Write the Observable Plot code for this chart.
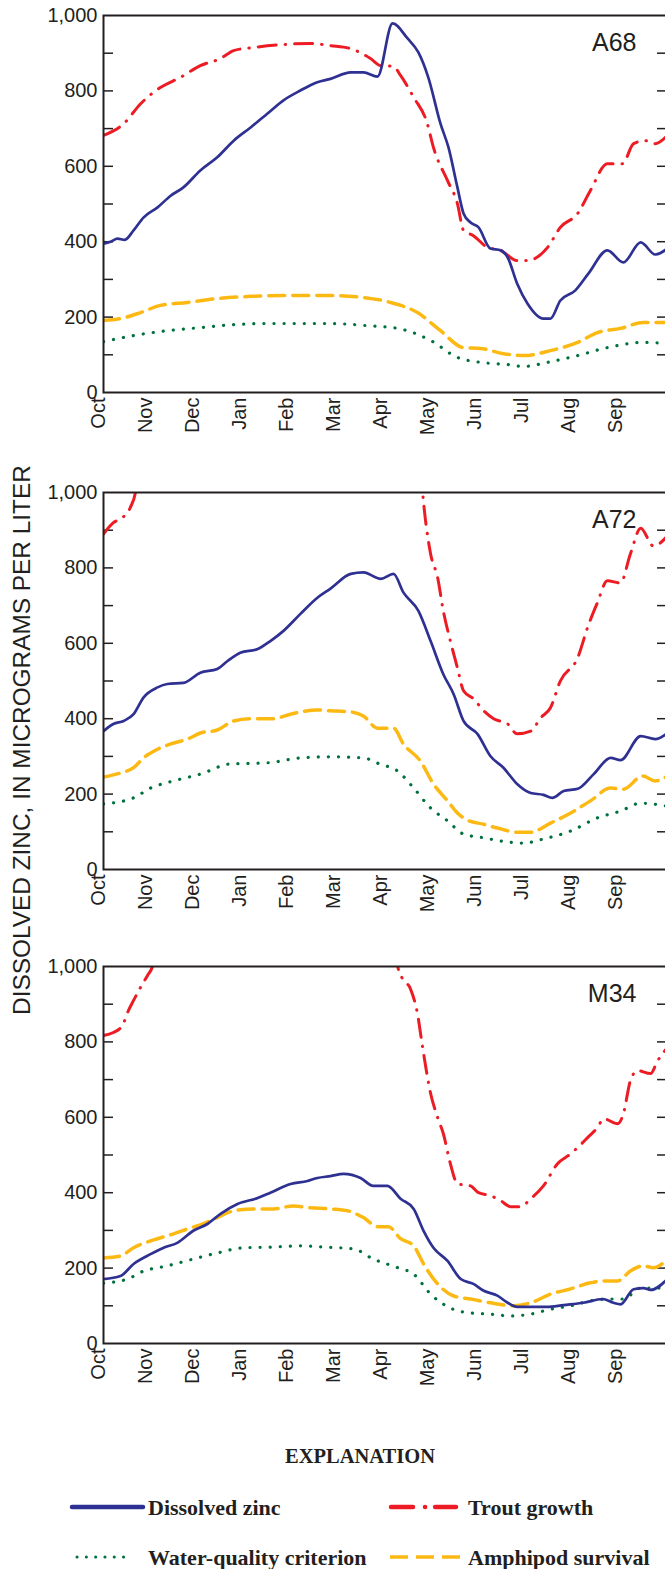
<!DOCTYPE html>
<html><head><meta charset="utf-8">
<script src="https://cdn.jsdelivr.net/npm/d3@7"></script>
<script src="https://cdn.jsdelivr.net/npm/@observablehq/plot@0.6"></script>
<style>
html,body{margin:0;padding:0;background:#fff;overflow:hidden;}
#wrap{position:relative;width:665px;height:1569px;overflow:hidden;}
.panel{position:absolute;left:0;max-width:none !important;}
#ytitle{position:absolute;left:22px;top:740px;transform:translate(-50%,-50%) rotate(-90deg);white-space:nowrap;font:24.4px "Liberation Sans",Arial,sans-serif;color:#231f20;}
#legend{position:absolute;left:0;top:1420px;}
</style></head><body><div id="wrap"><div id="ytitle">DISSOLVED ZINC, IN MICROGRAMS PER LITER</div></div>
<script>
// Month axis (t = months since Oct 1)
const months = ["Oct","Nov","Dec","Jan","Feb","Mar","Apr","May","Jun","Jul","Aug","Sep"];
const monthTicks = [0,1,2,3,4,5,6,7,8,9,10,11];
const yLabelTicks = [0,200,400,600,800,1000];
const yMinorTicks = [100,200,300,400,500,600,700,800,900];
const siteLabels = ["A68","A72","M34"];
const seriesNames = ["Dissolved zinc","Trout growth","Water-quality criterion","Amphipod survival"];

// A68
const a68Zinc = [[0,395],[0.15,400],[0.3,408],[0.45,405],[0.64,430],[0.85,464],[1.15,491],[1.43,522],[1.7,544],[2.06,589],[2.42,624],[2.77,668],[3.13,703],[3.49,740],[3.83,775],[4.19,801],[4.55,823],[4.83,832],[5.26,849],[5.53,849],[5.83,838],[6.15,979],[6.47,939],[6.7,902],[6.91,836],[7.17,713],[7.34,650],[7.53,544],[7.66,475],[7.81,451],[7.98,438],[8.23,382],[8.45,377],[8.6,358],[8.8,289],[9.02,236],[9.36,196],[9.51,196],[9.72,244],[10.04,271],[10.32,316],[10.72,377],[11.06,345],[11.43,398],[11.74,366],[12,382]];
const a68Trout = [[0,682],[0.43,713],[0.79,766],[1.21,809],[1.64,836],[2.06,867],[2.49,886],[2.77,907],[3.19,915],[3.83,923],[4.4,926],[4.83,920],[5.26,912],[5.68,886],[5.9,867],[6.17,865],[6.32,841],[6.6,783],[6.89,713],[7.02,650],[7.32,562],[7.53,501],[7.66,430],[7.87,416],[8.17,385],[8.45,377],[8.8,350],[9.02,350],[9.45,385],[9.72,438],[10.09,475],[10.36,536],[10.72,607],[11.04,607],[11.28,660],[11.53,668],[11.74,660],[12,682]];
const a68Amphipod = [[0,191],[0.36,196],[0.79,212],[1.21,231],[1.79,239],[2.42,249],[3.13,255],[3.83,257],[4.55,257],[4.83,257],[5.53,252],[6.1,239],[6.68,212],[7.17,164],[7.66,119],[8.02,117],[8.51,103],[8.94,98],[9.51,111],[10.09,133],[10.51,159],[11.0,170],[11.49,186],[12,186]];
const a68Criterion = [[0,135],[0.64,151],[1.36,164],[2.06,172],[2.77,180],[3.49,183],[4.19,183],[4.83,183],[5.53,178],[6.26,170],[6.96,138],[7.53,93],[8.02,80],[8.6,74],[8.94,69],[9.45,80],[10.09,98],[10.72,119],[11.49,133],[12,130]];

// A72
const a72Zinc = [[0,367],[0.21,386],[0.43,394],[0.64,412],[0.85,456],[1.15,483],[1.36,492],[1.7,495],[2.06,522],[2.42,532],[2.64,553],[2.91,575],[3.28,585],[3.55,606],[3.83,633],[4.19,678],[4.55,721],[4.83,745],[5.26,784],[5.53,788],[5.9,771],[6.17,784],[6.38,735],[6.7,686],[6.96,606],[7.23,518],[7.45,465],[7.66,394],[7.96,359],[8.23,301],[8.51,270],[8.8,227],[9.09,203],[9.36,198],[9.55,190],[9.79,208],[10.09,214],[10.43,253],[10.79,296],[11.0,290],[11.43,354],[11.74,346],[12,362]];
const a72Trout = [[0,890],[0.21,920],[0.4,933],[0.57,960],[0.68,1000],[0.75,1060],[null,null],[6.75,1060],[6.79,1000],[6.96,837],[7.11,774],[7.23,686],[7.38,606],[7.53,535],[7.66,474],[7.87,453],[8.09,421],[8.3,400],[8.6,386],[8.8,360],[9.09,367],[9.3,402],[9.51,429],[9.72,500],[10.09,562],[10.3,642],[10.51,708],[10.72,766],[11.0,760],[11.21,837],[11.43,905],[11.7,858],[12,885]];
const a72Amphipod = [[0,245],[0.36,256],[0.64,270],[0.85,296],[1.15,319],[1.43,333],[1.79,346],[2.06,362],[2.42,370],[2.77,394],[3.13,400],[3.62,400],[3.98,412],[4.55,423],[4.83,421],[5.26,418],[5.53,407],[5.83,375],[6.17,375],[6.38,333],[6.74,288],[7.02,227],[7.32,182],[7.53,150],[7.74,131],[8.09,120],[8.38,110],[8.8,99],[9.09,99],[9.51,123],[9.94,150],[10.36,182],[10.79,216],[11.06,213],[11.47,248],[11.74,235],[12,248]];
const a72Criterion = [[0,174],[0.64,190],[1.0,216],[1.49,235],[2.06,253],[2.7,280],[3.49,283],[4.19,296],[4.83,299],[5.53,296],[5.87,280],[6.26,261],[6.6,216],[6.96,163],[7.32,129],[7.66,94],[8.09,84],[8.6,73],[8.94,70],[9.36,81],[9.94,102],[10.51,137],[11.0,155],[11.43,176],[12,168]];

// M34
const m34Zinc = [[0,171],[0.36,179],[0.64,211],[1.0,237],[1.28,254],[1.57,267],[1.91,299],[2.21,317],[2.49,344],[2.85,370],[3.28,386],[3.55,400],[3.98,423],[4.34,431],[4.55,439],[4.83,444],[5.11,450],[5.47,439],[5.74,418],[6.04,418],[6.32,384],[6.6,357],[6.81,299],[7.02,254],[7.32,219],[7.6,171],[7.87,158],[8.09,140],[8.38,127],[8.6,108],[8.8,97],[9.43,97],[9.79,102],[10.21,108],[10.62,118],[10.85,108],[11.0,104],[11.28,144],[11.49,147],[11.64,142],[12,171]];
const m34Trout = [[0,817],[0.21,825],[0.4,843],[0.53,883],[0.64,910],[0.79,945],[0.94,977],[1.04,1000],[1.1,1040],[null,null],[6.22,1040],[6.26,1000],[6.36,968],[6.53,941],[6.68,875],[6.79,785],[6.96,663],[7.11,599],[7.23,557],[7.38,477],[7.53,424],[7.81,418],[7.98,400],[8.23,392],[8.45,379],[8.66,363],[8.87,363],[9.09,384],[9.36,418],[9.66,477],[9.94,503],[10.3,546],[10.51,573],[10.64,596],[10.94,583],[11.06,609],[11.21,697],[11.36,724],[11.64,716],[11.79,750],[12,785]];
const m34Amphipod = [[0,227],[0.36,232],[0.64,254],[1.0,272],[1.49,291],[1.79,304],[2.13,318],[2.42,334],[2.77,352],[3.19,357],[3.62,357],[4.04,365],[4.4,360],[4.83,357],[5.19,352],[5.53,334],[5.83,310],[6.06,310],[6.32,278],[6.6,259],[6.81,211],[7.11,158],[7.45,126],[7.81,118],[8.23,108],[8.72,100],[9.09,108],[9.51,131],[9.94,145],[10.36,161],[10.64,166],[10.94,166],[11.21,192],[11.49,206],[11.7,201],[12,224]];
const m34Criterion = [[0,160],[0.51,171],[0.85,192],[1.36,206],[1.91,224],[2.42,240],[2.98,254],[3.62,256],[4.19,259],[4.68,256],[5.32,251],[5.74,224],[6.26,201],[6.6,184],[6.96,131],[7.38,94],[7.81,81],[8.23,78],[8.66,73],[9.09,78],[9.51,91],[9.94,100],[10.36,113],[10.79,118],[11.06,118],[11.43,147],[12,147]];

const ink = "#231f20";
const blue = "#2e3192", red = "#ed1c24", gold = "#fdb913", green = "#00703c";
const styleZinc = {stroke: blue, strokeWidth: 2.7};
const styleTrout = {stroke: red, strokeWidth: 3, strokeDasharray: "18,9,0.5,9", strokeLinecap: "round"};
const styleCrit = {stroke: green, strokeWidth: 3.2, strokeDasharray: "0.1,10", strokeLinecap: "round"};
const styleAmph = {stroke: gold, strokeWidth: 3.5, strokeDasharray: "16,8"};

const panels = [
  {label: siteLabels[0], zinc: a68Zinc, trout: a68Trout, amph: a68Amphipod, crit: a68Criterion, top: 0},
  {label: siteLabels[1], zinc: a72Zinc, trout: a72Trout, amph: a72Amphipod, crit: a72Criterion, top: 477},
  {label: siteLabels[2], zinc: m34Zinc, trout: m34Trout, amph: m34Amphipod, crit: m34Criterion, top: 951}
];

const W = 670, mL = 103, mR = 3, mT = 15, PH = 377, mB = 60;
const plotW = W - mL - mR;
const wrap = document.getElementById("wrap");
const X = d => d[0], Y = d => d[1];
const curve = "monotone-x";

for (const p of panels) {
  const chart = Plot.plot({
    width: W, height: mT + PH + mB,
    marginLeft: mL, marginRight: mR, marginTop: mT, marginBottom: mB,
    style: {fontFamily: '"Liberation Sans", Arial, sans-serif', fontSize: "20px", color: ink, background: "transparent", maxWidth: "none"},
    x: {domain: [0, 12]},
    y: {domain: [0, 1000]},
    marks: [
      Plot.axisX({ticks: monthTicks, tickFormat: i => months[i], tickRotate: -90, tickSize: 0, tickPadding: 5, label: null, fontSize: 20, dx: -5}),
      Plot.axisY({ticks: yLabelTicks, tickFormat: d3.format(","), tickSize: 0, tickPadding: 6, label: null, fontSize: 20}),
      Plot.tickY(yMinorTicks, {y: d => d, insetRight: plotW - 10, stroke: ink, strokeWidth: 1.5}),
      Plot.tickY(yMinorTicks, {y: d => d, insetLeft: plotW - 10, stroke: ink, strokeWidth: 1.5}),
      Plot.line(p.crit, {x: X, y: Y, curve, ...styleCrit, clip: true}),
      Plot.line(p.amph, {x: X, y: Y, curve, ...styleAmph, clip: true}),
      Plot.line(p.trout, {x: X, y: Y, curve, ...styleTrout, clip: true}),
      Plot.line(p.zinc, {x: X, y: Y, curve, ...styleZinc, clip: true}),
      Plot.text([p.label], {text: d => d, frameAnchor: "top-right", textAnchor: "end", lineAnchor: "top", dx: -31, dy: 18, fontSize: 25, fill: ink}),
      Plot.frame({stroke: ink, strokeWidth: 2})
    ]
  });
  chart.classList.add("panel");
  chart.style.top = p.top + "px";
  chart.style.position = "absolute";
  chart.style.maxWidth = "none";
  chart.setAttribute("width", W);
  chart.style.width = W + "px";
  wrap.appendChild(chart);
}

// Legend
const serif = '"Liberation Serif", "Times New Roman", serif';
const lg = d3.create("svg").attr("id", "legend").attr("width", 665).attr("height", 149)
  .style("position", "absolute").style("left", "0px").style("top", "1420px");
lg.append("text").attr("x", 360).attr("y", 43).attr("text-anchor", "middle")
  .attr("font-family", serif).attr("font-weight", "bold").attr("font-size", 20.5).attr("fill", ink).text("EXPLANATION");
const items = [
  {name: seriesNames[0], x1: 72, x2: 143, y: 87, stroke: blue, w: 4.5, dash: null, cap: "round"},
  {name: seriesNames[1], x1: 391, x2: 456, y: 87, stroke: red, w: 4.5, dash: "22,12,0.1,10", cap: "round"},
  {name: seriesNames[2], x1: 77, x2: 124, y: 137, stroke: green, w: 3, dash: "0.1,9.2", cap: "round"},
  {name: seriesNames[3], x1: 390, x2: 461, y: 137, stroke: gold, w: 3.5, dash: "18,8", cap: "butt"}
];
for (const it of items) {
  const ln = lg.append("line").attr("x1", it.x1).attr("x2", it.x2).attr("y1", it.y).attr("y2", it.y)
    .attr("stroke", it.stroke).attr("stroke-width", it.w).attr("stroke-linecap", it.cap);
  if (it.dash) ln.attr("stroke-dasharray", it.dash);
  lg.append("text").attr("x", it.x1 < 200 ? 148 : 468).attr("y", it.y + 8)
    .attr("font-family", serif).attr("font-weight", "bold").attr("font-size", 22).attr("fill", ink).text(it.name);
}
wrap.appendChild(lg.node());
</script></body></html>
